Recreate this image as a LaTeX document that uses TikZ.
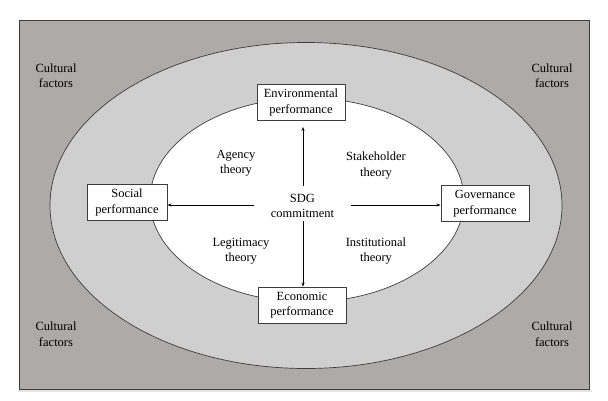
\documentclass[tikz,border=0pt]{standalone}
\usepackage{fontspec}
\setmainfont{Liberation Serif}
\usetikzlibrary{arrows.meta}
\definecolor{outergray}{RGB}{174,170,169}
\definecolor{ringgray}{RGB}{208,207,208}
\definecolor{edgegray}{RGB}{60,60,60}
\definecolor{shadowgray}{RGB}{228,228,228}
\tikzset{
  perfbox/.style={draw=edgegray, line width=0.9pt, fill=white, minimum width=88pt, minimum height=36pt, inner sep=1pt, align=center, font=\fontsize{12.5}{15.5}\selectfont},
  lbl/.style={align=center, font=\fontsize{12.5}{15.5}\selectfont, inner sep=0pt},
  arr/.style={-{Stealth[length=4pt,width=3pt]}, line width=0.6pt, draw=black}
}
\begin{document}
\begin{tikzpicture}[x=1pt,y=-1pt]
\useasboundingbox (0,0) rectangle (608,401);
\fill[white] (0,0) rectangle (608,401);
\draw[shadowgray, line width=2pt] (18,391) -- (592,391);
\draw[edgegray, line width=0.9pt, fill=outergray] (19.5,20) rectangle (589.5,389);
\draw[edgegray, line width=0.7pt, fill=ringgray] (306,205.5) ellipse [x radius=256, y radius=163];
\draw[edgegray, line width=0.7pt, fill=white] (307,200) ellipse [x radius=157, y radius=102];

\node[perfbox, minimum width=88pt] (env) at (301,102.5) {Environmental\\performance};
\node[perfbox, minimum width=80pt] (soc) at (127,202.5) {Social\\performance};
\node[perfbox, minimum width=88pt] (gov) at (485,203.5) {Governance\\performance};
\node[perfbox, minimum width=88pt] (eco) at (302,305) {Economic\\performance};

\node[lbl] (sdg) at (302.5,206) {SDG\\commitment};

\node[lbl] (agency) at (236,163) {Agency\\theory};
\node[lbl] (stake) at (376,165.5) {Stakeholder\\theory};
\node[lbl] (legit) at (241,251) {Legitimacy\\theory};
\node[lbl] (inst) at (376,251) {Institutional\\theory};

\node[lbl] (cf1) at (56,75.5) {Cultural\\factors};
\node[lbl] (cf2) at (552,75.5) {Cultural\\factors};
\node[lbl] (cf3) at (56,334) {Cultural\\factors};
\node[lbl] (cf4) at (552,334) {Cultural\\factors};

\coordinate (up0) at (303,186);
\coordinate (dn0) at (303,221);
\coordinate (lf0) at (254,205);
\coordinate (rt0) at (351,205);
\coordinate (upend) at (303,127);
\draw[arr] (up0) -- (upend);
\draw[arr] (dn0) -- (dn0 |- eco.north);
\draw[arr] (lf0) -- (soc.east |- lf0);
\draw[arr] (rt0) -- (gov.west |- rt0);
\end{tikzpicture}
\end{document}
